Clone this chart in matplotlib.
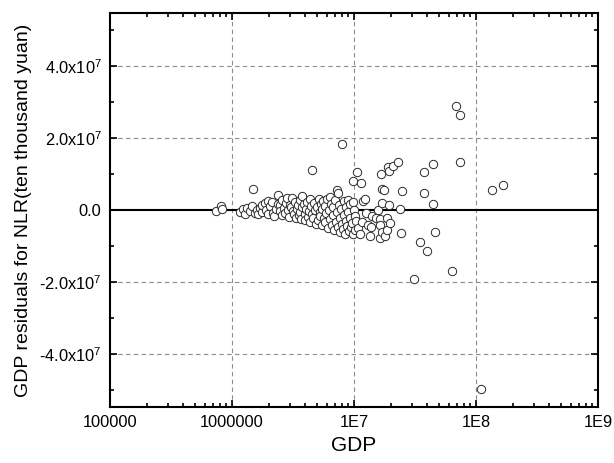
import matplotlib
matplotlib.use("Agg")
import matplotlib.pyplot as plt
from matplotlib.ticker import FixedLocator, FixedFormatter, LogLocator, NullFormatter
import numpy as np

plt.rcParams['font.family'] = ['Liberation Sans', 'DejaVu Sans']
plt.rcParams['mathtext.fontset'] = 'custom'
plt.rcParams['mathtext.rm'] = 'Liberation Sans'
plt.rcParams['mathtext.it'] = 'Liberation Sans'
plt.rcParams['mathtext.default'] = 'regular'

# GDP (in 1e6 units) and residuals (in 1e6 units)
gdp_m = [
    0.74, 0.81, 0.83,
    1.163, 1.231, 1.278, 1.327, 1.405, 1.459, 1.487, 1.544, 1.603, 1.634, 1.696, 1.762, 1.762,
    1.864, 1.900, 1.973, 1.973, 2.049, 2.128, 2.168, 2.209, 2.294, 2.383, 2.383, 2.474, 2.474, 2.570, 2.570,
    2.668, 2.719, 2.771, 2.824, 2.877, 2.932, 2.988, 3.045, 3.103, 3.162, 3.223, 3.284, 3.346, 3.410, 3.475,
    3.542, 3.609, 3.609, 3.678, 3.748, 3.748,
    3.892, 3.966, 3.966, 4.042, 4.119, 4.197, 4.277, 4.359, 4.359, 4.441, 4.526, 4.526, 4.613, 4.700, 4.790,
    4.881, 4.974, 5.069, 5.165, 5.264, 5.264, 5.364, 5.466, 5.466,
    5.570, 5.676, 5.785, 5.785, 5.895, 6.007, 6.122, 6.238, 6.357, 6.357, 6.478, 6.601, 6.727, 6.727, 6.855,
    6.986, 7.119, 7.254, 7.254, 7.393, 7.393, 7.533, 7.677, 7.677, 7.823, 7.972, 7.972,
    8.124, 8.279, 8.279, 8.437, 8.597, 8.597, 8.760, 8.928, 8.928, 9.098, 9.272, 9.272, 9.449, 9.627, 9.813,
    9.813, 9.813, 10.0, 10.19, 10.19, 10.38,
    10.58, 11.41, 10.78, 11.20, 11.63, 11.85, 12.31, 12.54, 13.02, 13.53, 13.78, 14.05, 15.15, 15.73,
    16.34, 16.34, 16.34, 16.65, 16.96, 16.96, 16.96, 17.62, 17.95, 18.64, 18.64, 19.0, 19.36, 19.36, 19.73,
    20.88, 22.94, 23.83, 24.28, 24.74, 34.75, 37.48, 37.48, 39.66, 44.41, 44.41, 46.13, 63.57, 68.55,
    73.93, 73.93, 31.03, 109.9, 135.3, 166.5,
]
resid_m = [
    -0.3, 1.1, 0.3,
    -0.6, 0.3, -1.1, 0.6, -0.3, 1.1, 5.8, -0.8, 0.0, -1.1, 0.6, -0.6, 1.4,
    1.9, 0.0, 2.5, -1.1, 1.1, 2.2, -0.8, -1.7, 0.3, 4.2, 1.7, 1.4, -0.3, 2.8, -1.4,
    0.6, -0.8, 1.9, 3.3, 0.0, -1.9, 1.4, 0.8, 3.3, -0.3, -1.1, 2.2, -2.2, 0.3, 1.4,
    -1.4, 2.8, -0.6, -2.5, 0.8, 3.9,
    1.7, -1.1, -2.8, 0.3, 2.2, -1.9, -0.3, 3.1, -3.3, 1.1, 11.1, -1.1, -2.2, 1.9, 0.0,
    -3.9, 0.8, -2.8, 3.1, -0.6, -1.7, 1.7, -4.2, 0.3,
    2.5, -2.2, 1.1, -3.3, -0.8, 3.1, -5.0, 0.0, 3.6, -2.5, 1.7, -4.2, -1.4, 0.8, -5.6,
    2.8, -3.3, 5.6, -0.6, 4.7, -4.7, 1.4, -2.2, -6.1, 0.3, 18.3, -3.9,
    -5.3, 2.5, -1.4, -6.7, 0.8, -3.1, -4.4, -0.6, 2.8, -5.8, -2.2, 1.7, -4.7, -3.6, 2.2,
    8.1, -6.7, 0.0, -1.7, -5.6, -3.1,
    10.6, 7.5, -5.0, -6.7, -3.3, 2.5, 3.1, -0.8, -4.2, -7.2, -4.7, -1.7, -2.2, 0.0,
    -2.5, -4.2, -7.8, 10.0, 5.8, 1.9, -6.1, 5.6, -7.2, -2.2, -5.6, 11.9, 10.8, 1.4, -3.6,
    12.2, 13.3, 0.3, -6.4, 5.3, -8.9, 4.7, 10.6, -11.4, 12.8, 1.7, -6.1, -16.9, 28.9,
    26.4, 13.3, -19.2, -49.7, 5.6, 6.9,
]

x_ticks = [1e5, 1e6, 1e7, 1e8, 1e9]
x_tick_labels = ['100000', '1000000', '1E7', '1E8', '1E9']
y_ticks = [-4e7, -2e7, 0, 2e7, 4e7]
y_tick_labels = ['-4.0x10$^{7}$', '-2.0x10$^{7}$', '0.0', '2.0x10$^{7}$', '4.0x10$^{7}$']

gdp = np.array(gdp_m) * 1e6
resid = np.array(resid_m) * 1e6

fig = plt.figure(figsize=(6.14, 4.63), dpi=100)
ax = fig.add_axes([0.179, 0.121, 0.795, 0.851])

ax.set_xscale('log')
ax.set_xlim(1e5, 1e9)
ax.set_ylim(-5.47e7, 5.47e7)

# grid
for xv in x_ticks[1:-1]:
    ax.axvline(xv, color='#8c8c8c', lw=0.8, ls=(0, (4, 3)), zorder=1)
for yv in [-4e7, -2e7, 2e7, 4e7]:
    ax.axhline(yv, color='#8c8c8c', lw=0.8, ls=(0, (4, 3)), zorder=1)

ax.axhline(0, color='black', lw=1.5, zorder=2)

ax.scatter(gdp, resid, s=36, facecolors='white', edgecolors='#2a2a2a', linewidths=0.7, zorder=3)

ax.xaxis.set_major_locator(FixedLocator(x_ticks))
ax.xaxis.set_major_formatter(FixedFormatter(x_tick_labels))
ax.xaxis.set_minor_locator(LogLocator(base=10, subs=np.arange(2, 10), numticks=20))
ax.xaxis.set_minor_formatter(NullFormatter())

ax.yaxis.set_major_locator(FixedLocator(y_ticks))
ax.yaxis.set_major_formatter(FixedFormatter(y_tick_labels))
ax.yaxis.set_minor_locator(FixedLocator([-5e7, -3e7, -1e7, 1e7, 3e7, 5e7]))

ax.tick_params(which='both', direction='in', top=True, right=True, width=1.2, labelsize=11.8, colors='black')
ax.tick_params(which='major', length=5, pad=6)
ax.tick_params(which='minor', length=3)

for sp in ax.spines.values():
    sp.set_linewidth(1.5)

ax.set_xlabel('GDP', fontsize=15, labelpad=4)
ax.set_ylabel('GDP residuals for NLR(ten thousand yuan)', fontsize=14, labelpad=5)

fig.savefig('out.png', dpi=100)
